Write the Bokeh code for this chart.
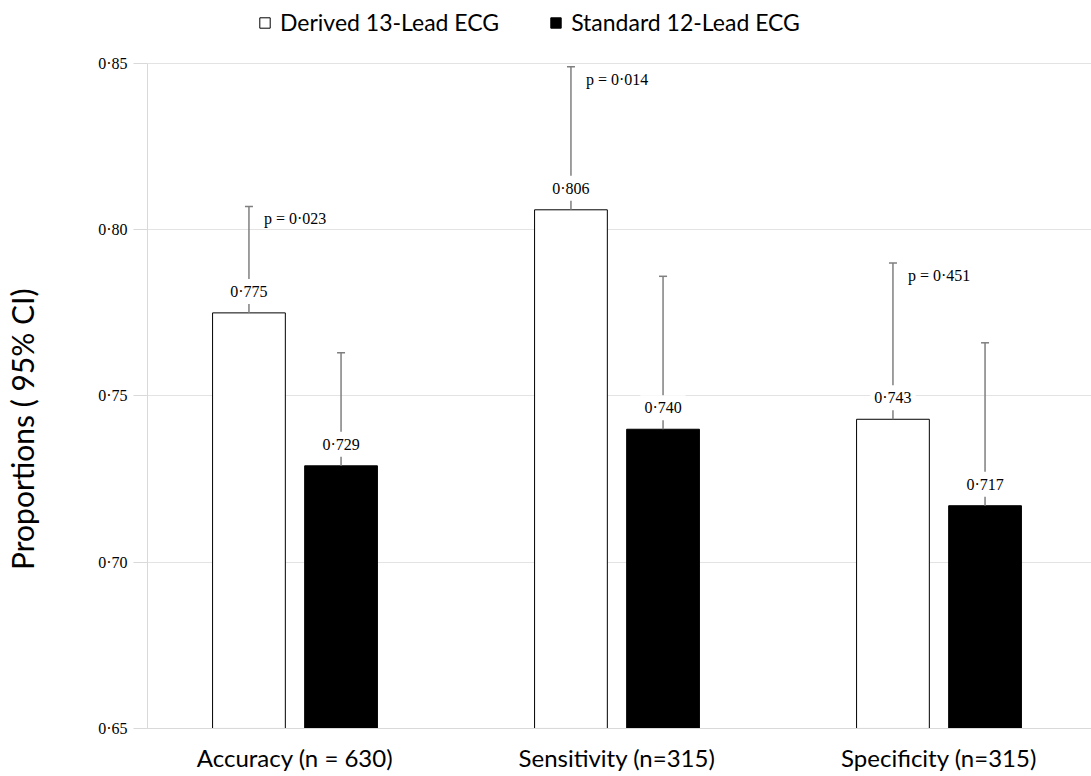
from bokeh.plotting import figure
from bokeh.models import ColumnDataSource, Range1d, FixedTicker, Legend, LegendItem, Label
from bokeh.core.properties import value
from bokeh.transform import dodge
from bokeh.embed import file_html
from bokeh.resources import INLINE

# ---- data ----
categories = ["Accuracy (n = 630)", "Sensitivity (n=315)", "Specificity (n=315)"]
series_names = ["Derived 13-Lead ECG", "Standard 12-Lead ECG"]
derived = [0.775, 0.806, 0.743]
derived_upper = [0.807, 0.849, 0.790]
standard = [0.729, 0.740, 0.717]
standard_upper = [0.763, 0.786, 0.766]
p_values = ["p = 0·023", "p = 0·014", "p = 0·451"]
y_ticks = [0.65, 0.70, 0.75, 0.80, 0.85]
y_tick_labels = ["0·65", "0·70", "0·75", "0·80", "0·85"]
y_title = "Proportions ( 95% CI)"


def fmt(v):
    return f"{v:.3f}".replace(".", "·")


src = ColumnDataSource(dict(
    x=list(range(len(categories))),
    derived=derived,
    derived_upper=derived_upper,
    standard=standard,
    standard_upper=standard_upper,
    derived_label=[fmt(v) for v in derived],
    standard_label=[fmt(v) for v in standard],
    p=p_values,
))

SERIF = value("Liberation Serif")
SANS = "Lato"
WHISK = "#7f7f7f"
OFF = 0.143
BAR_W = 0.226
X0, X1 = -0.9146, 2.4736      # visible x extent (frame covers whole width)
AXIS_X = -0.458               # where the value axis sits
BASE = y_ticks[0]             # where the category axis sits
Y0, Y1 = 0.63556, 0.86895     # room below for category labels, above for legend

p = figure(width=1091, height=776, title=None,
           x_range=Range1d(X0, X1), y_range=Range1d(Y0, Y1),
           output_backend="svg", toolbar_location=None,
           min_border_left=0, min_border_right=0,
           min_border_top=0, min_border_bottom=0)
p.outline_line_color = None
p.background_fill_color = "white"
p.border_fill_color = "white"

# grid (only right of the value axis)
p.xgrid.visible = False
yg = p.ygrid[0]
yg.ticker = FixedTicker(ticks=y_ticks)
yg.grid_line_color = "#e3e3e3"
if hasattr(yg, "cross_bounds"):
    yg.cross_bounds = (AXIS_X, X1)
else:
    yg.visible = False
    gsrc = ColumnDataSource(dict(y=y_ticks, x0=[AXIS_X] * len(y_ticks),
                                 x1=[X1] * len(y_ticks)))
    p.segment(x0="x0", y0="y", x1="x1", y1="y", source=gsrc,
              line_color="#e3e3e3", line_width=1)

# bars
r_d = p.vbar(x=dodge("x", -OFF, range=p.x_range), top="derived", bottom=BASE,
             width=BAR_W, source=src, fill_color="white",
             line_color="black", line_width=1)
r_s = p.vbar(x=dodge("x", OFF, range=p.x_range), top="standard", bottom=BASE,
             width=BAR_W, source=src, fill_color="black",
             line_color="black", line_width=1)

# whiskers (upper CI only)
for off, lo, up in [(-OFF, "derived", "derived_upper"), (OFF, "standard", "standard_upper")]:
    xd = dodge("x", off, range=p.x_range)
    p.segment(x0=xd, y0=lo, x1=xd, y1=up, source=src,
              line_color=WHISK, line_width=1.5)
    p.dash(x=xd, y=up, source=src, size=8, line_color=WHISK, line_width=1.5)

# value labels with white background
for off, col, lab in [(-OFF, "derived", "derived_label"), (OFF, "standard", "standard_label")]:
    p.text(x=dodge("x", off, range=p.x_range), y=col, text=lab, source=src,
           text_align="center", text_baseline="bottom", y_offset=-9,
           text_font=SERIF, text_font_size="16px", text_color="black",
           background_fill_color="white", padding=4)

# p-values
p.text(x=dodge("x", -OFF, range=p.x_range), y="derived_upper", text="p", source=src,
       text_align="left", text_baseline="top", x_offset=15, y_offset=4,
       text_font=SERIF, text_font_size="16px", text_color="black")

# value axis, pinned at AXIS_X
ya = p.yaxis[0]
ya.fixed_location = AXIS_X
ya.ticker = FixedTicker(ticks=y_ticks)
ya.bounds = (y_ticks[0], y_ticks[-1])
ya.major_label_overrides = {t: l for t, l in zip(y_ticks, y_tick_labels)}
ya.axis_line_color = "#d9d9d9"
ya.major_tick_line_color = "#d9d9d9"
ya.major_tick_out = 14
ya.major_tick_in = 0
ya.minor_tick_line_color = None
ya.major_label_text_font = "Liberation Serif"
ya.major_label_text_font_size = "16px"
ya.major_label_text_color = "black"
ya.major_label_standoff = 6

p.add_layout(Label(x=AXIS_X, y=0.740, x_offset=-126, text=y_title,
                   angle=90, angle_units="deg",
                   text_align="center", text_baseline="middle",
                   text_font=SANS, text_font_size="30px", text_color="black"))

# category axis, pinned at the 0·65 baseline
xa = p.xaxis[0]
xa.fixed_location = BASE
xa.ticker = FixedTicker(ticks=list(range(len(categories))))
xa.bounds = (AXIS_X, X1)
xa.major_label_overrides = {i: c for i, c in enumerate(categories)}
xa.axis_line_color = "#d9d9d9"
xa.major_tick_line_color = None
xa.minor_tick_line_color = None
xa.major_label_text_font = SANS
xa.major_label_text_font_size = "24px"
xa.major_label_text_color = "black"
xa.major_label_standoff = 9

legend = Legend(items=[LegendItem(label=series_names[0], renderers=[r_d]),
                       LegendItem(label=series_names[1], renderers=[r_s])],
                orientation="horizontal", location=(258, 740),
                glyph_width=13, glyph_height=13, label_standoff=9, spacing=50,
                label_height=26,
                label_text_font=SANS, label_text_font_size="23px",
                label_text_color="black", padding=0, margin=0,
                border_line_alpha=0, background_fill_alpha=0)
p.add_layout(legend, "center")

open("out.html", "w").write(file_html(p, INLINE))
